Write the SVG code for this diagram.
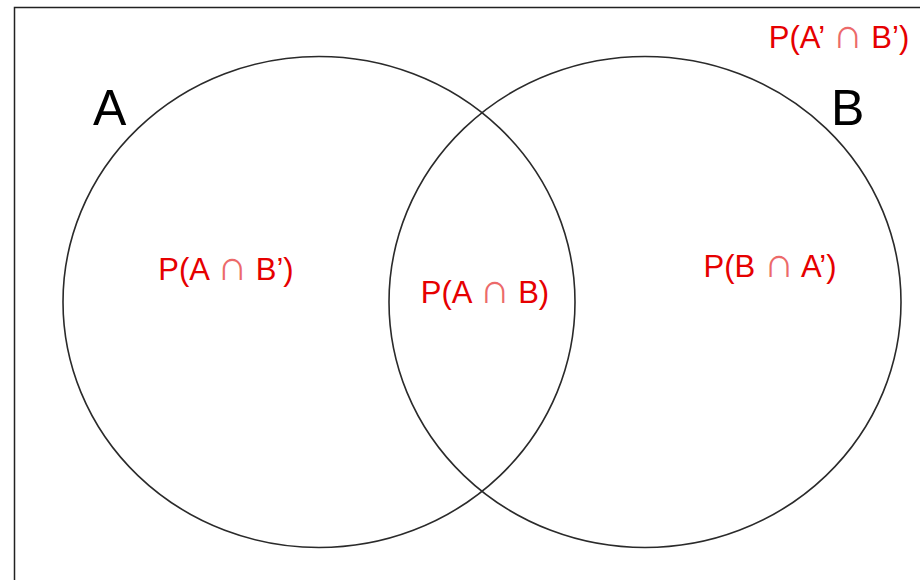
<svg xmlns="http://www.w3.org/2000/svg" width="920" height="580" viewBox="0 0 920 580">
<style>
.set{fill:none;stroke:#2a2a2a;stroke-width:1.6}
.big{font-family:"Liberation Sans",Arial,sans-serif;font-size:50px;fill:#000}
.prob{font-family:"Liberation Sans",Arial,sans-serif;font-size:31px;fill:#e60000;text-anchor:middle}
.cap{font-size:42px;fill:#ec6a6a}
</style>
<rect x="0" y="0" width="920" height="580" fill="#fff"/>
<rect id="frame" x="14.5" y="7.5" width="930" height="600" fill="none" stroke="#222" stroke-width="1.5"/>
<g id="setA">
<ellipse class="set" cx="319" cy="302" rx="256" ry="245.5"/>
<text class="big" x="93" y="125">A</text>
</g>
<g id="setB">
<ellipse class="set" cx="645" cy="302" rx="256" ry="245.5"/>
<text class="big" x="831" y="125">B</text>
</g>
<g id="regionAnotB"><text class="prob" x="226" y="280">P(A <tspan class="cap">∩</tspan> B’)</text></g>
<g id="regionAB"><text class="prob" x="485" y="303">P(A <tspan class="cap">∩</tspan> B)</text></g>
<g id="regionBnotA"><text class="prob" x="770" y="277">P(B <tspan class="cap">∩</tspan> A’)</text></g>
<g id="regionNeither"><text class="prob" x="839" y="48">P(A’ <tspan class="cap">∩</tspan> B’)</text></g>
<g id="connectors"></g>
</svg>
